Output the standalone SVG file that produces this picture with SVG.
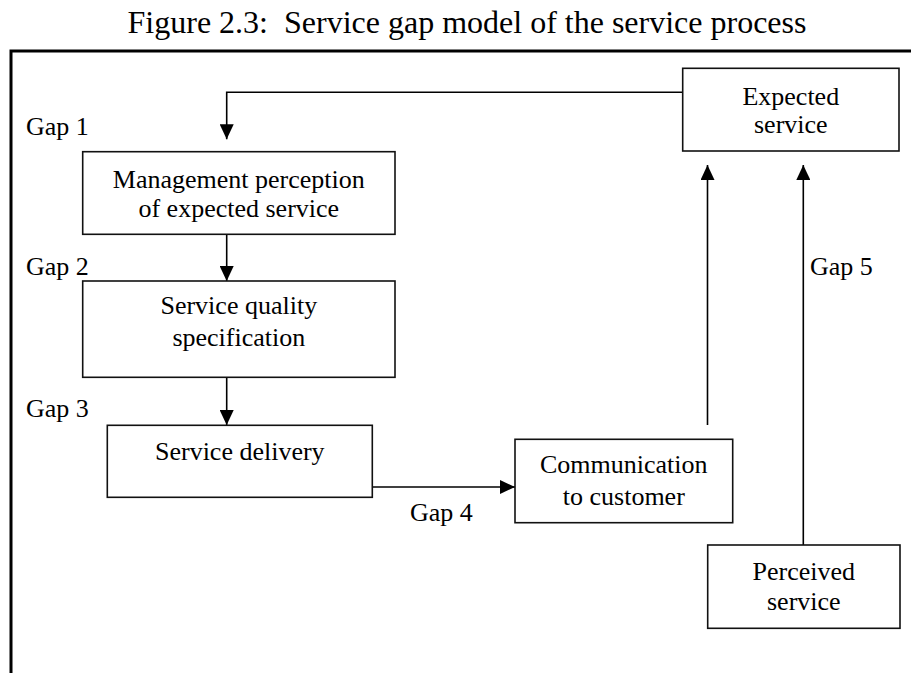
<svg xmlns="http://www.w3.org/2000/svg" width="911" height="673" viewBox="0 0 911 673">
<style>
text{font-family:"Liberation Serif","Times New Roman",serif;fill:#000}
.t{font-size:26px}
.c{text-anchor:middle}
.title{font-size:32px;text-anchor:middle}
.box{fill:#fff;stroke:#111;stroke-width:1.6}
.con{fill:none;stroke:#000;stroke-width:1.6}
.frame{fill:none;stroke:#000;stroke-width:3}
</style>
<defs>
<marker id="ah" markerUnits="userSpaceOnUse" markerWidth="16" markerHeight="14" refX="15" refY="7" orient="auto">
<path d="M0,0 L15,7 L0,14 Z" fill="#000"/>
</marker>
</defs>
<text class="title" x="467" y="33">Figure 2.3:&#160; Service gap model of the service process</text>
<path class="frame" d="M11,673 V51 H911"/>
<g id="connectors">
<path class="con" d="M682.7,92.3 H226.7 V139.3" marker-end="url(#ah)"/>
<path class="con" d="M226.7,234.3 V281" marker-end="url(#ah)"/>
<path class="con" d="M226.7,377.3 V425" marker-end="url(#ah)"/>
<path class="con" d="M372.3,487 H515" marker-end="url(#ah)"/>
<path class="con" d="M707.5,425 V165" marker-end="url(#ah)"/>
<path class="con" d="M803.3,545 V165" marker-end="url(#ah)"/>
</g>
<g id="labels">
<text class="t" x="26" y="135">Gap 1</text>
<text class="t" x="26" y="275">Gap 2</text>
<text class="t" x="26" y="417">Gap 3</text>
<text class="t" x="410" y="521">Gap 4</text>
<text class="t" x="810" y="275">Gap 5</text>
</g>
<g id="expected">
<rect class="box" x="682.7" y="68.3" width="216.3" height="82.7"/>
<text class="t c" x="790.8" y="105">Expected</text>
<text class="t c" x="790.8" y="133">service</text>
</g>
<g id="management">
<rect class="box" x="82.7" y="151.7" width="312.3" height="82.6"/>
<text class="t c" x="238.8" y="188">Management perception</text>
<text class="t c" x="238.8" y="217">of expected service</text>
</g>
<g id="specification">
<rect class="box" x="82.7" y="281" width="312.3" height="96.3"/>
<text class="t c" x="238.8" y="314">Service quality</text>
<text class="t c" x="238.8" y="346">specification</text>
</g>
<g id="delivery">
<rect class="box" x="107.3" y="425.3" width="265" height="72"/>
<text class="t c" x="239.8" y="460">Service delivery</text>
</g>
<g id="communication">
<rect class="box" x="515" y="439.3" width="217.7" height="83.4"/>
<text class="t c" x="623.8" y="473">Communication</text>
<text class="t c" x="623.8" y="505">to customer</text>
</g>
<g id="perceived">
<rect class="box" x="707.7" y="545" width="192.3" height="83.3"/>
<text class="t c" x="803.8" y="580">Perceived</text>
<text class="t c" x="803.8" y="610">service</text>
</g>
</svg>
